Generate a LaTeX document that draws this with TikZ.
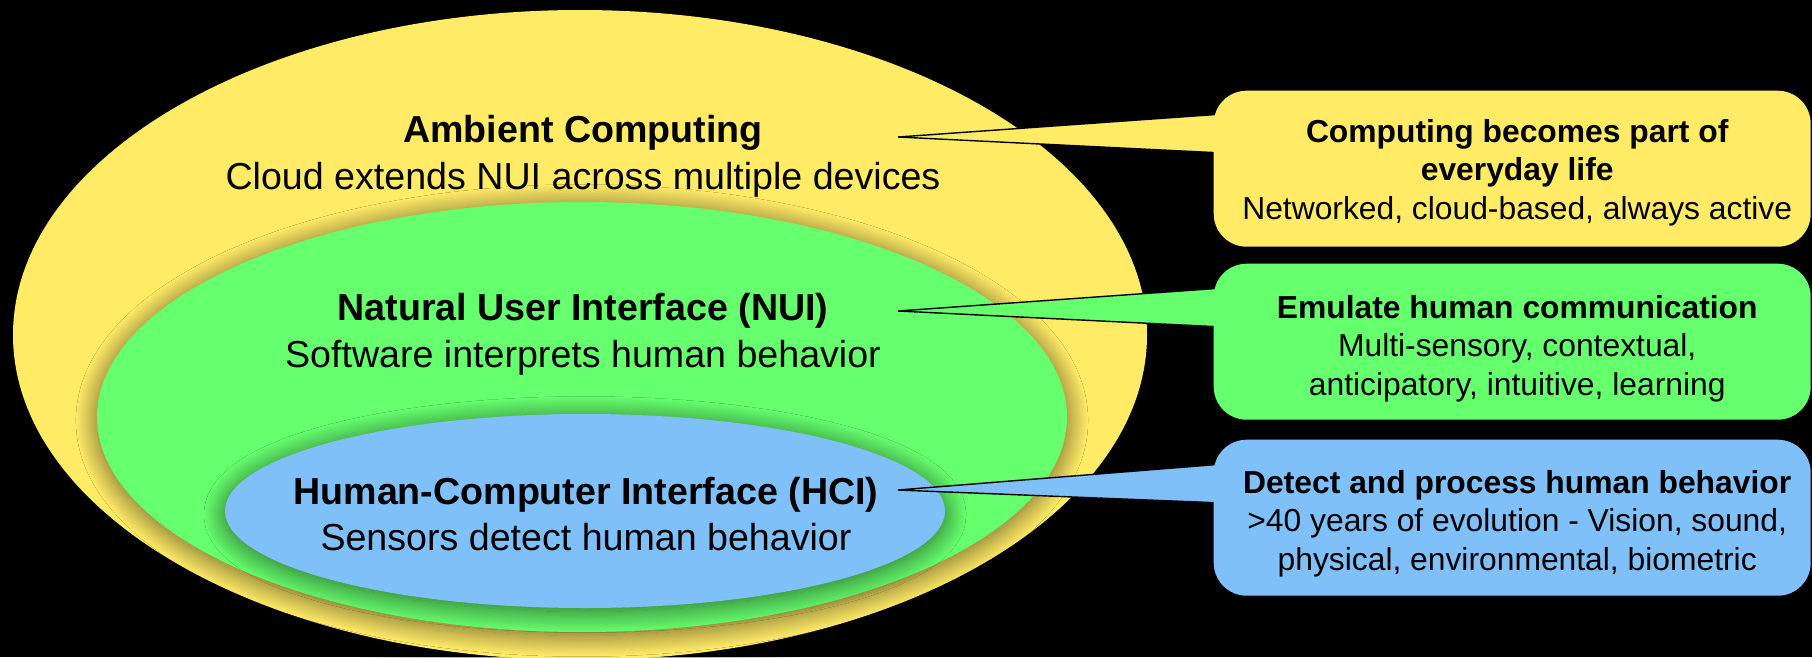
\documentclass[tikz,border=0pt]{standalone}
\usepackage{fontspec}
\setmainfont{Liberation Sans}
\usetikzlibrary{shapes.geometric}
\usetikzlibrary{shadows.blur}
\definecolor{ambientColor}{HTML}{FFEB66}
\definecolor{nuiColor}{HTML}{66FF6E}
\definecolor{hciColor}{HTML}{80C0F8}
\tikzset{
  ring/.style={ellipse, inner sep=0pt,
    blur shadow={shadow xshift=0pt, shadow yshift=-1pt, shadow blur radius=6pt,
      shadow blur steps=25, shadow opacity=60}},
  ringtext/.style={align=center, font=\fontsize{10.7}{13.3}\selectfont},
  bubble/.style={rounded corners=0.33cm, minimum width=5.97cm, minimum height=1.56cm,
    inner sep=0pt, anchor=north west},
  bubbletext/.style={align=center, font=\fontsize{9.05}{11}\selectfont},
  tail/.style={draw=black, line width=0.4pt}
}

\begin{document}
\begin{tikzpicture}
  \fill[black] (0,0) rectangle (18.12,6.57);
  \useasboundingbox (0,0) rectangle (18.12,6.57);
  % nested ellipses
  \node[ring, fill=ambientColor, minimum width=11.34cm, minimum height=6.5cm] (ambient) at (5.80,3.22) {};
  \node[ring, fill=nuiColor, minimum width=9.70cm, minimum height=4.30cm] (nui) at (5.82,2.40) {};
  \node[ring, fill=hciColor, minimum width=7.20cm, minimum height=1.94cm] (hci) at (5.85,1.46) {};
  \node[ringtext] (ambtext) at (5.83,5.01) {\textbf{Ambient Computing}\\Cloud extends NUI across multiple devices};
  \node[ringtext] (nuitext) at (5.83,3.23) {\textbf{Natural User Interface (NUI)}\\Software interprets human behavior};
  \node[ringtext] (hcitext) at (5.86,1.43) {\textbf{Human-Computer Interface (HCI)}\\Sensors detect human behavior};
  % callouts
  \coordinate (ambtip) at (8.98,5.20);
  \coordinate (nuitip) at (8.98,3.46);
  \coordinate (hcitip) at (8.98,1.67);
  \coordinate (ambcorner) at (12.13,5.67);
  \coordinate (nuicorner) at (12.13,3.94);
  \coordinate (hcicorner) at (12.13,2.18);
  \filldraw[tail, fill=ambientColor] (ambtip) -- ([shift={(0.1,-0.24)}]ambcorner) -- ([shift={(0.1,-0.63)}]ambcorner) -- cycle;
  \filldraw[tail, fill=nuiColor] (nuitip) -- ([shift={(0.1,-0.25)}]nuicorner) -- ([shift={(0.1,-0.64)}]nuicorner) -- cycle;
  \filldraw[tail, fill=hciColor] (hcitip) -- ([shift={(0.1,-0.25)}]hcicorner) -- ([shift={(0.1,-0.64)}]hcicorner) -- cycle;
  \node[bubble, fill=ambientColor] (ambbox) at (ambcorner) {};
  \node[bubble, fill=nuiColor] (nuibox) at (nuicorner) {};
  \node[bubble, fill=hciColor] (hcibox) at (hcicorner) {};
  \node[bubbletext] (ambnote) at ([shift={(0.05,-0.04)}]ambbox.center)
    {\textbf{Computing becomes part of}\\\textbf{everyday life}\\Networked, cloud-based, always active};
  \node[bubbletext] (nuinote) at ([shift={(0.05,-0.07)}]nuibox.center)
    {\textbf{Emulate human communication}\\Multi-sensory, contextual,\\anticipatory, intuitive, learning};
  \node[bubbletext] (hcinote) at ([shift={(0.05,-0.06)}]hcibox.center)
    {\textbf{Detect and process human behavior}\\>40 years of evolution - Vision, sound,\\physical, environmental, biometric};
\end{tikzpicture}
\end{document}
